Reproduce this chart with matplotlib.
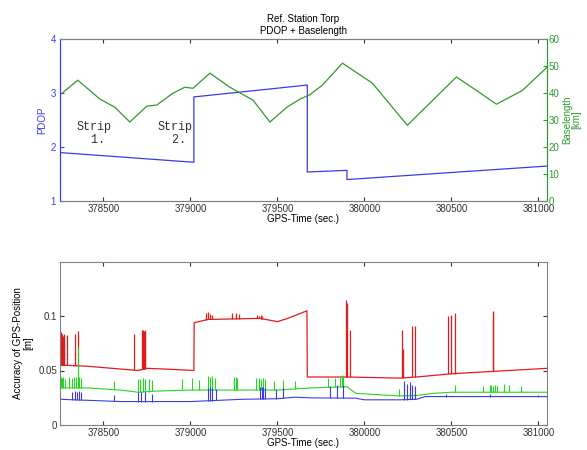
import numpy as np
import matplotlib
matplotlib.use("Agg")
import matplotlib.pyplot as plt

# ===================== data =====================
# PDOP (blue), piecewise with jumps
pdop_t = [378250, 379020, 379020, 379672, 379672, 379900, 379900, 381050]
pdop_v = [1.90, 1.72, 2.93, 3.15, 1.54, 1.57, 1.40, 1.65]

# baselength [km] (green)
base_t = [378250, 378353, 378480, 378566, 378652, 378750, 378807, 378900,
          378968, 379015, 379112, 379227, 379360, 379457, 379555, 379630,
          379684, 379759, 379874, 380046, 380247, 380529, 380644, 380759,
          380908, 381050]
base_v = [39.3, 44.8, 37.8, 34.8, 29.3, 35.2, 35.6, 40.0,
          42.2, 41.8, 47.4, 42.2, 37.4, 29.3, 34.8, 37.8,
          39.3, 43.0, 51.1, 43.7, 28.1, 46.0, 41.0, 35.9,
          41.0, 49.6]

# accuracy baselines [m]
red_t = [378250, 378400, 378700, 378750, 378900, 379020, 379022, 379100,
         379400, 379500, 379560, 379670, 379672, 379900, 380200, 380300,
         380500, 381050]
red_v = [0.055, 0.054, 0.050, 0.052, 0.051, 0.050, 0.094, 0.097,
         0.098, 0.095, 0.098, 0.105, 0.044, 0.044, 0.043, 0.044,
         0.047, 0.052]

green_t = [378250, 378400, 378600, 378700, 378800, 379000, 379500, 379700,
           379900, 379950, 380100, 380200, 380300, 380400, 380500, 381050]
green_v = [0.034, 0.034, 0.032, 0.030, 0.031, 0.032, 0.032, 0.034,
           0.035, 0.029, 0.0275, 0.0266, 0.027, 0.029, 0.030, 0.030]

blue_t = [378250, 378400, 378600, 379000, 379300, 379500, 379600, 379700,
          379950, 380000, 380200, 380300, 380350, 380600, 381050]
blue_v = [0.0235, 0.0226, 0.0214, 0.0214, 0.0235, 0.024, 0.0254, 0.0248,
          0.0245, 0.023, 0.023, 0.0235, 0.026, 0.026, 0.026]

# spikes (time, top)
red_spike_t = [378251, 378253, 378255, 378257, 378259, 378261, 378263, 378265,
               378267, 378269, 378271, 378273, 378290,
               378335, 378356, 378678, 378724, 378727, 378730, 378734, 378737, 378741,
               379092, 379100, 379112, 379126, 379241, 379260, 379281,
               379385, 379395, 379405, 379414,
               379895, 379898, 379920, 380217, 380220, 380274, 380291,
               380483, 380498, 380523, 380737, 380740]
red_spike_v = [0.084, 0.082, 0.085, 0.083, 0.080, 0.084, 0.078, 0.083,
               0.082, 0.079, 0.084, 0.076, 0.083,
               0.084, 0.0865, 0.084, 0.087, 0.086, 0.087, 0.086, 0.087, 0.085,
               0.103, 0.104, 0.102, 0.101, 0.103, 0.103, 0.102,
               0.101, 0.100, 0.101, 0.100,
               0.115, 0.112, 0.087, 0.087, 0.070, 0.091, 0.091,
               0.100, 0.101, 0.103, 0.105, 0.104]

green_spike_t = [378255, 378262, 378270, 378280, 378300, 378320, 378330, 378340,
                 378353, 378360, 378370, 378560, 378700, 378712, 378725, 378740,
                 378760, 378780, 378950, 379010, 379050, 379100, 379110, 379125,
                 379140, 379250, 379260, 379270, 379380, 379392, 379405, 379418,
                 379430, 379480, 379530, 379600, 379790, 379830, 379860, 379870,
                 379880, 380200, 380230, 380260, 380290, 380520, 380680, 380720,
                 380730, 380740, 380750, 380760, 380800, 380830, 380900]
green_spike_v = [0.044, 0.043, 0.044, 0.042, 0.044, 0.043, 0.044, 0.044,
                 0.072, 0.044, 0.043, 0.040, 0.042, 0.042, 0.043, 0.042,
                 0.042, 0.041, 0.042, 0.043, 0.041, 0.045, 0.044, 0.045,
                 0.043, 0.044, 0.044, 0.043, 0.043, 0.043, 0.042, 0.043,
                 0.042, 0.040, 0.041, 0.040, 0.043, 0.043, 0.045, 0.046,
                 0.045, 0.033, 0.036, 0.037, 0.034, 0.037, 0.036, 0.037,
                 0.037, 0.036, 0.037, 0.036, 0.038, 0.037, 0.036]

blue_spike_t = [378320, 378335, 378350, 378362, 378370, 378560, 378700, 378715,
                378740, 378780, 379100, 379112, 379125, 379150, 379400, 379410,
                379420, 379430, 379490, 379530, 379800, 379840, 379880,
                380230, 380245, 380260, 380275, 380290, 380470, 380720, 381000]
blue_spike_v = [0.030, 0.031, 0.030, 0.031, 0.030, 0.027, 0.030, 0.030,
                0.030, 0.028, 0.034, 0.035, 0.034, 0.033, 0.035, 0.035,
                0.035, 0.034, 0.033, 0.034, 0.036, 0.037, 0.037,
                0.040, 0.038, 0.039, 0.037, 0.036, 0.028, 0.028, 0.027]

x_ticks = [378500, 379000, 379500, 380000, 380500, 381000]

BLUE = "#3b3be6"
GREEN_TOP = "#2f9a2f"
GREEN_BOT = "#22d622"
RED = "#e01c1c"
GREY = "#808080"

plt.rcParams["font.family"] = ["Liberation Sans", "DejaVu Sans"]
plt.rcParams["font.size"] = 7

fig = plt.figure(figsize=(5.87, 4.5), dpi=100)

# ===================== top: PDOP + baselength =====================
ax1 = fig.add_axes([0.102, 0.553, 0.830, 0.360])
ax1.plot(pdop_t, pdop_v, color=BLUE, lw=0.9)
ax1.set_xlim(378250, 381050)
ax1.set_ylim(1, 4)
ax1.set_yticks([1, 2, 3, 4])
ax1.set_xticks(x_ticks)
ax1.set_xticklabels([str(t) for t in x_ticks])
ax1.set_ylabel("PDOP", color=BLUE, labelpad=2)
ax1.tick_params(axis="y", colors=BLUE, direction="in", length=3, pad=3)
ax1.tick_params(axis="x", direction="in", length=3, top=True, pad=2, colors="#333333")
ax1.set_xlabel("GPS-Time (sec.)", labelpad=0)
ax1.set_title("Ref. Station Torp\nPDOP + Baselength", fontsize=7, pad=4)

ax2 = ax1.twinx()
ax2.plot(base_t, base_v, color=GREEN_TOP, lw=0.9)
ax2.set_ylim(0, 60)
ax2.set_yticks(range(0, 61, 10))
ax2.tick_params(axis="y", colors=GREEN_TOP, direction="in", length=3, pad=1)
ax2.set_ylabel("Baselength\n[km]", color=GREEN_TOP, labelpad=2, linespacing=0.9)

for ax in (ax1, ax2):
    ax.spines["top"].set_color(GREY)
    ax.spines["bottom"].set_color(GREY)
    ax.spines["left"].set_color(BLUE)
    ax.spines["right"].set_color(GREEN_TOP)

ax1.text(378448, 2.25, "Strip\n 1.", family="Liberation Mono", fontsize=8.5,
         ha="center", va="center", color="#333333", linespacing=1.1)
ax1.text(378914, 2.25, "Strip\n 2.", family="Liberation Mono", fontsize=8.5,
         ha="center", va="center", color="#333333", linespacing=1.1)

# ===================== bottom: accuracy =====================
ax3 = fig.add_axes([0.102, 0.056, 0.830, 0.362])


def draw(ax, bt, bv, st, sv, color, lw):
    ax.plot(bt, bv, color=color, lw=lw)
    base = np.interp(st, bt, bv)
    ax.vlines(st, base, sv, color=color, lw=lw)


draw(ax3, red_t, red_v, red_spike_t, red_spike_v, RED, 0.9)
draw(ax3, green_t, green_v, green_spike_t, green_spike_v, GREEN_BOT, 0.8)
draw(ax3, blue_t, blue_v, blue_spike_t, blue_spike_v, BLUE, 0.8)

ax3.set_xlim(378250, 381050)
ax3.set_ylim(0, 0.15)
ax3.set_yticks([0, 0.05, 0.1])
ax3.set_yticklabels(["0", "0.05", "0.1"])
ax3.set_xticks(x_ticks)
ax3.set_xticklabels([str(t) for t in x_ticks])
ax3.tick_params(direction="in", length=3, top=True, right=True, colors="#333333", pad=2)
ax3.set_xlabel("GPS-Time (sec.)", labelpad=0)
ax3.set_ylabel("Accuracy of GPS-Position\n[m]", labelpad=4, linespacing=1.0)
for s in ax3.spines.values():
    s.set_color(GREY)

fig.savefig("out.png", dpi=100)
